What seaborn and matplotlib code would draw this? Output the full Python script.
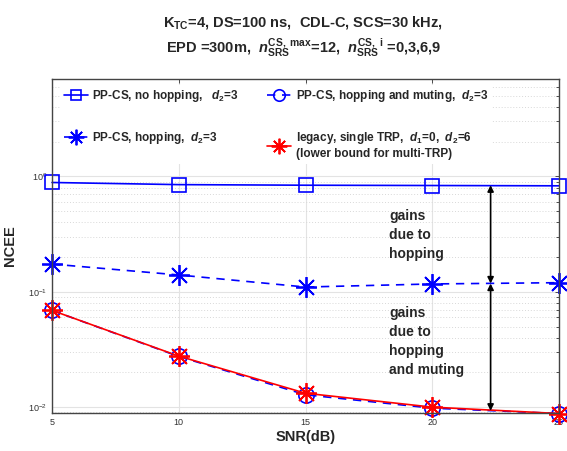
import numpy as np
import pandas as pd
import matplotlib
matplotlib.use("Agg")
import matplotlib.pyplot as plt
import seaborn as sns
from matplotlib.ticker import LogLocator, FixedLocator, FuncFormatter

snr = [5, 10, 15, 20, 25]
no_hop = [0.887, 0.85, 0.84, 0.835, 0.83]
hop = [0.174, 0.14, 0.110, 0.117, 0.120]
hop_mute = [0.069, 0.0275, 0.0128, 0.0098, 0.0088]
legacy = [0.069, 0.0277, 0.0132, 0.0100, 0.0088]

sns.set_theme(style="whitegrid")
plt.rcParams['font.family'] = 'sans-serif'
plt.rcParams['font.sans-serif'] = ['Liberation Sans', 'DejaVu Sans']
plt.rcParams['mathtext.fontset'] = 'custom'
plt.rcParams['mathtext.rm'] = 'sans:bold'
plt.rcParams['mathtext.bf'] = 'sans:bold'
plt.rcParams['mathtext.it'] = 'sans:italic:bold'
plt.rcParams['mathtext.sf'] = 'sans:bold'

fig = plt.figure(figsize=(5.67, 4.51), dpi=100)
ax = fig.add_axes([0.0917, 0.0843, 0.8943, 0.7405])

df = pd.DataFrame({"snr": snr, "no_hop": no_hop, "hop": hop,
                   "hop_mute": hop_mute, "legacy": legacy})

mk_ast = (8, 2, 0)
sns.lineplot(data=df, x="snr", y="no_hop", ax=ax, color="#0000ff", lw=1.2,
             marker="s", markersize=10, markerfacecolor="none",
             markeredgecolor="#0000ff", markeredgewidth=1.2, clip_on=False)
sns.lineplot(data=df, x="snr", y="hop", ax=ax, color="#0000ff", lw=1.2,
             linestyle=(0, (5, 4)), marker=mk_ast, markersize=15,
             markeredgecolor="#0000ff", markeredgewidth=1.3, clip_on=False)
sns.lineplot(data=df, x="snr", y="hop_mute", ax=ax, color="#0000ff", lw=1.2,
             linestyle=(0, (5, 4)), marker="o", markersize=11,
             markerfacecolor="none", markeredgecolor="#0000ff",
             markeredgewidth=1.2, clip_on=False)
sns.lineplot(data=df, x="snr", y="legacy", ax=ax, color="#ff0000", lw=1.2,
             marker=mk_ast, markersize=15, markeredgecolor="#ff0000",
             markeredgewidth=1.3, clip_on=False)

ax.set_yscale("log")
ax.set_xlim(5, 25)
ax.set_ylim(0.0089, 7.0)
ax.set_xticks(snr)
ax.xaxis.set_major_formatter(FuncFormatter(lambda v, p: f"{int(v)}"))
ax.yaxis.set_major_locator(FixedLocator([0.01, 0.1, 1.0]))
ax.yaxis.set_minor_locator(LogLocator(base=10, subs=np.arange(2, 10), numticks=20))
ax.yaxis.set_major_formatter(FuncFormatter(
    lambda v, p: r"$\mathregular{10^{%d}}$" % int(round(np.log10(v)))))
ax.yaxis.set_minor_formatter(FuncFormatter(lambda v, p: ""))

ax.set_facecolor("white")
ax.grid(True, which="major", color="#e3e3e3", lw=0.8, ls="-")
ax.grid(True, which="minor", axis="y", color="#d8d8d8", lw=0.7, ls=(0, (1, 2)))
for s in ax.spines.values():
    s.set_color("#444444")
    s.set_linewidth(1.0)
ax.tick_params(axis="both", which="both", direction="in", top=True, right=True,
               labelsize=6.5, colors="#333333", length=3, width=0.6)
ax.tick_params(axis="y", which="minor", length=2)

ax.set_xlabel("SNR(dB)", fontsize=10.5, fontweight="bold", labelpad=2)
ax.set_ylabel("NCEE", fontsize=10.5, fontweight="bold", labelpad=8)

fig.text(0.535, 0.950, r"K$_\mathregular{\mathbf{TC}}$=4, DS=100 ns,  CDL-C, SCS=30 kHz,",
         ha="center", va="center", fontsize=10.5, fontweight="bold")
fig.text(0.535, 0.892,
         r"EPD =300m,  $n_{\mathrm{SRS}}^{\mathrm{CS,\ max}}$=12,  $n_{\mathrm{SRS}}^{\mathrm{CS,\ i}}$ =0,3,6,9",
         ha="center", va="center", fontsize=10.5, fontweight="bold")

lines = ax.get_lines()
labels = [r"PP-CS, no hopping,   $d_2$=3",
          r"PP-CS, hopping,  $d_2$=3",
          r"PP-CS, hopping and muting,  $d_2$=3",
          "legacy, single TRP,  $d_1$=0,  $d_2$=6\n(lower bound for multi-TRP)"]
handles = [lines[0], lines[1], lines[2], lines[3]]
leg = ax.legend(handles, labels, ncol=2, loc="upper left",
                bbox_to_anchor=(0.005, 1.0), frameon=True, fancybox=False,
                facecolor="white", edgecolor="white", framealpha=1.0,
                prop={"weight": "bold", "size": 8.5}, handlelength=2.0,
                handletextpad=0.4, columnspacing=2.4, labelspacing=2.2,
                borderpad=0.3, markerscale=0.75)
leg.get_frame().set_linewidth(0)

xa = 22.3
arrow_kw = dict(arrowstyle="<|-|>", color="black", lw=1.2,
                mutation_scale=9, shrinkA=0, shrinkB=0)
ax.annotate("", xy=(xa, 0.84), xytext=(xa, 0.118), arrowprops=arrow_kw)
ax.annotate("", xy=(xa, 0.118), xytext=(xa, 0.0093), arrowprops=arrow_kw)

ax.text(18.3, 0.52, "gains\ndue to\nhopping", fontsize=10, fontweight="bold",
        va="top", ha="left", linespacing=1.45)
ax.text(18.3, 0.075, "gains\ndue to\nhopping\nand muting", fontsize=10,
        fontweight="bold", va="top", ha="left", linespacing=1.45)

fig.savefig("out.png", dpi=100)
